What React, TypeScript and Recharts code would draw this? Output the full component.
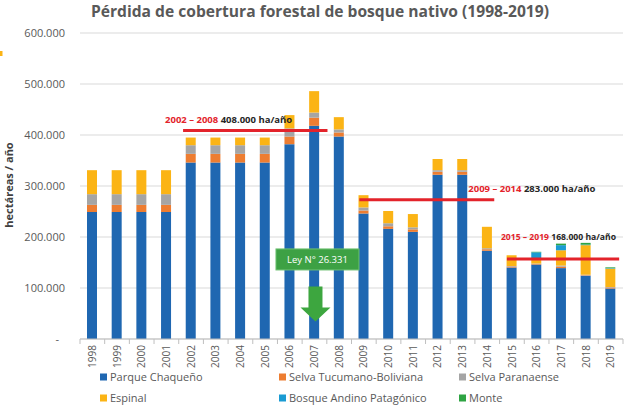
import { BarChart, Bar, XAxis, YAxis, CartesianGrid, ReferenceLine, ReferenceDot } from 'recharts'

const years = [
  '1998', '1999', '2000', '2001', '2002', '2003', '2004', '2005', '2006', '2007', '2008',
  '2009', '2010', '2011', '2012', '2013', '2014', '2015', '2016', '2017', '2018', '2019',
]

// hectáreas por región
const parqueChaqueno = [
  249000, 249000, 249000, 249000, 346000, 346000, 346000, 346000, 382000, 418000, 397000,
  246000, 216000, 210000, 322000, 322000, 173000, 140000, 146000, 139000, 124000, 99000,
]
const selvaTucumano = [
  14000, 14000, 14000, 14000, 17000, 17000, 17000, 17000, 15000, 16000, 8000,
  6000, 5000, 5000, 6000, 6000, 3000, 2000, 1500, 3000, 1000, 2000,
]
const selvaParanaense = [
  21000, 21000, 21000, 21000, 17000, 17000, 17000, 17000, 16000, 10000, 6000,
  6000, 6000, 4000, 3000, 3000, 2000, 1000, 500, 2000, 1000, 1000,
]
const espinal = [
  47000, 47000, 47000, 47000, 15000, 15000, 15000, 15000, 26000, 42000, 24000,
  24000, 24000, 26000, 22000, 22000, 42000, 21000, 10000, 30000, 58000, 36000,
]
const bosqueAndino = [
  0, 0, 0, 0, 0, 0, 0, 0, 0, 0, 0,
  0, 0, 0, 0, 0, 0, 0, 12000, 10000, 1000, 1000,
]
const monte = [
  0, 0, 0, 0, 0, 0, 0, 0, 0, 0, 0,
  0, 0, 0, 0, 0, 0, 0, 1000, 3000, 3500, 1500,
]

const seriesKeys = ['parque', 'tucumano', 'paranaense', 'espinal', 'andino', 'monte']
const seriesNames = [
  'Parque Chaqueño', 'Selva Tucumano-Boliviana', 'Selva Paranaense',
  'Espinal', 'Bosque Andino Patagónico', 'Monte',
]
const seriesColors = ['#1f67b1', '#ed7d31', '#a5a5a5', '#fbb415', '#1a9bd3', '#2ea443']
const seriesValues = [parqueChaqueno, selvaTucumano, selvaParanaense, espinal, bosqueAndino, monte]

const yTicks = [0, 100000, 200000, 300000, 400000, 500000, 600000]

// promedios por período (línea roja)
const periodFrom = ['2002', '2009', '2015']
const periodTo = ['2007', '2014', '2019']
const periodLevel = [409000, 273000, 157000]
const periodYears = ['2002 – 2008', '2009 – 2014', '2015 – 2019']
const periodText = ['408.000 ha/año', '283.000 ha/año', '168.000 ha/año']

const data = years.map((year, i) => {
  const row: Record<string, string | number> = { year }
  seriesKeys.forEach((k, j) => {
    row[k] = seriesValues[j][i]
  })
  return row
})

const FONT = '"Open Sans", sans-serif'
const BAND = 24.67

const fmt = (v: number) => (v === 0 ? '-' : `${v / 1000}.000`)

function YTick({ x, y, payload }: any) {
  const v = payload.value
  return (
    <text x={v === 0 ? x - 6 : x} y={y} dy="0.36em" textAnchor="end" fill="#595959" fontSize={11} fontFamily={FONT}>
      {fmt(v)}
    </text>
  )
}

function XTick({ x, y, payload }: any) {
  const off = payload.offset || BAND / 2
  const tx = x + 3.6
  const ty = y + 6
  return (
    <g>
      <line x1={x - off} x2={x - off} y1={y} y2={y + 5} stroke="#bfbfbf" />
      {payload.value === years[years.length - 1] && (
        <line x1={x + off} x2={x + off} y1={y} y2={y + 5} stroke="#bfbfbf" />
      )}
      <text x={tx} y={ty} transform={`rotate(-90 ${tx} ${ty})`} textAnchor="end" fill="#595959" fontSize={10} fontFamily={FONT}>
        {payload.value}
      </text>
    </g>
  )
}

// pixel tweaks for each period line and its label
const lineDx = [[-8, 13], [-4.5, 7], [-5, 8.5]]
const labelDx = [-18, 109, -6]
const labelDy = [-7.5, -7.5, -19]
const labelSize = [9.5, 9.5, 8.6]

function PeriodLine(props: any) {
  const { x1, y1, x2, idx } = props
  const a = x1 + lineDx[idx][0]
  const b = x2 + lineDx[idx][1]
  return (
    <g>
      <line x1={a} x2={b} y1={y1} y2={y1} stroke="#e3232b" strokeWidth={3} />
      <text x={a + labelDx[idx]} y={y1 + labelDy[idx]} fontSize={labelSize[idx]} fontWeight="bold" fontFamily={FONT}>
        <tspan fill="#e3232b">{periodYears[idx]}</tspan>
        <tspan fill="#262626"> {periodText[idx]}</tspan>
      </text>
    </g>
  )
}

function LeyMarker({ cx, cy }: any) {
  const bx = cx + 3
  const ax = cx + 1
  return (
    <g>
      <rect x={bx - 41.5} y={cy - 10.5} width={83} height={21} fill="#3da144" stroke="#6cc070" strokeWidth={1} />
      <text x={bx} y={cy} dy="0.36em" textAnchor="middle" fill="#ffffff" fontSize={9.5} fontFamily={FONT}>
        Ley N° 26.331
      </text>
      <path
        d={`M${ax - 7} ${cy + 27} L${ax + 7} ${cy + 27} L${ax + 7} ${cy + 48} L${ax + 15} ${cy + 48} L${ax} ${cy + 62} L${ax - 15} ${cy + 48} L${ax - 7} ${cy + 48} Z`}
        fill="#3da63f"
      />
    </g>
  )
}

const legendCols = [100, 279, 459]
const legendRows = [377, 398]

export default function App() {
  return (
    <div style={{ position: 'absolute', left: 0, top: 0, width: 625, height: 410, background: '#fff' }}>
      <BarChart
        width={625}
        height={410}
        data={data}
        margin={{ top: 33, right: 2, left: 0, bottom: 41 }}
        barSize={10}
      >
        <CartesianGrid vertical={false} stroke="#d9d9d9" />
        <XAxis
          dataKey="year"
          interval={0}
          height={30}
          tickLine={false}
          tickSize={0}
          tickMargin={0}
          axisLine={{ stroke: '#bfbfbf' }}
          tick={<XTick />}
        />
        <YAxis
          width={80}
          domain={[0, 600000]}
          ticks={yTicks}
          axisLine={false}
          tickLine={false}
          tickSize={0}
          tickMargin={15}
          tick={<YTick />}
        />
        {seriesKeys.map((k, j) => (
          <Bar key={k} dataKey={k} name={seriesNames[j]} stackId="a" fill={seriesColors[j]} isAnimationActive={false} />
        ))}
        {periodLevel.map((lvl, i) => (
          <ReferenceLine
            key={i}
            segment={[{ x: periodFrom[i], y: lvl }, { x: periodTo[i], y: lvl }]}
            shape={(p: any) => <PeriodLine {...p} idx={i} />}
          />
        ))}
        <ReferenceDot x="2007" y={156000} r={0} shape={(p: any) => <LeyMarker {...p} />} />
      </BarChart>
      <svg width={625} height={410} style={{ position: 'absolute', left: 0, top: 0, pointerEvents: 'none' }}>
        <text x={320} y={17} textAnchor="middle" fill="#595959" fontSize={16} fontWeight="bold" fontFamily={FONT} textLength={458} lengthAdjust="spacingAndGlyphs">
          Pérdida de cobertura forestal de bosque nativo (1998-2019)
        </text>
        <text x={13} y={185} transform="rotate(-90 13 185)" textAnchor="middle" fill="#404040" fontSize={11} fontWeight="bold" fontFamily={FONT}>
          hectáreas / año
        </text>
        <rect x={0} y={51} width={2.5} height={5} fill="#fbb415" />
        {seriesNames.map((name, i) => {
          const lx = legendCols[i % 3]
          const ly = legendRows[Math.floor(i / 3)]
          return (
            <g key={name}>
              <rect x={lx} y={ly - 3.5} width={7} height={7} fill={seriesColors[i]} />
              <text x={lx + 10} y={ly} dy="0.36em" fill="#595959" fontSize={11} fontFamily={FONT}>
                {name}
              </text>
            </g>
          )
        })}
      </svg>
    </div>
  )
}
